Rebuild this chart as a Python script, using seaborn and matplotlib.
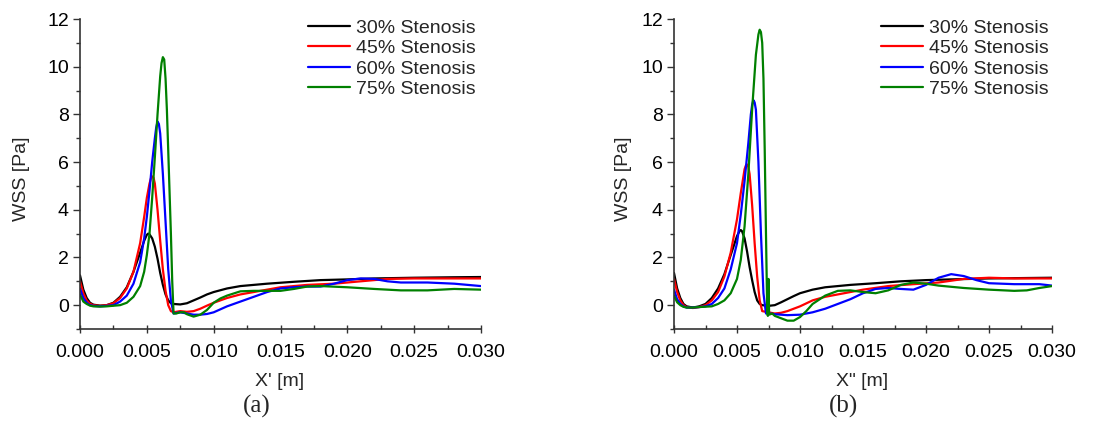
import numpy as np
import pandas as pd
import matplotlib
matplotlib.use("Agg")
import matplotlib.pyplot as plt
from matplotlib.ticker import MultipleLocator, FormatStrFormatter
import seaborn as sns

# ---------------- data ----------------
series_labels = ["30% Stenosis", "45% Stenosis", "60% Stenosis", "75% Stenosis"]
series_colors = ["#000000", "#ff0000", "#0000ff", "#008000"]

# Panel (a)
a30_x = [0, 0.00025, 0.0005, 0.00075, 0.001, 0.0015, 0.002, 0.0025, 0.003, 0.0035, 0.004, 0.0045,
         0.0048, 0.005, 0.0051, 0.0052, 0.0054, 0.0056, 0.0058, 0.006, 0.0062, 0.0064, 0.0066,
         0.0068, 0.007, 0.0075, 0.008, 0.0085, 0.009, 0.0095, 0.010, 0.011, 0.012,
         0.014, 0.016, 0.018, 0.020, 0.022, 0.025, 0.028, 0.030]
a30_y = [1.25, 0.65, 0.3, 0.1, 0.02, -0.02, 0.0, 0.1, 0.35, 0.75, 1.4, 2.2,
         2.7, 2.95, 3.0, 2.97, 2.8, 2.45, 1.95, 1.35, 0.85, 0.45, 0.2,
         0.08, 0.05, 0.03, 0.08, 0.2, 0.32, 0.45, 0.55, 0.7, 0.8,
         0.9, 0.98, 1.05, 1.08, 1.12, 1.15, 1.17, 1.18]

a45_x = [0, 0.00025, 0.0005, 0.00075, 0.001, 0.0015, 0.002, 0.0025, 0.003, 0.0035, 0.004, 0.0045,
         0.0048, 0.005, 0.0052, 0.0053, 0.0054, 0.0055, 0.0056, 0.0058, 0.006, 0.0062, 0.0064,
         0.0066, 0.0068, 0.007, 0.0075, 0.008, 0.0085, 0.009, 0.0095, 0.010, 0.011, 0.012,
         0.013, 0.015, 0.017, 0.019, 0.021, 0.023, 0.025, 0.028, 0.030]
a45_y = [1.0, 0.5, 0.2, 0.06, 0.0, -0.03, 0.0, 0.08, 0.3, 0.7, 1.4, 2.6,
         3.7, 4.5, 5.1, 5.3, 5.4, 5.35, 5.1, 4.0, 2.7, 1.5, 0.6,
         0.0, -0.25, -0.3, -0.25, -0.28, -0.25, -0.15, -0.02, 0.1, 0.3, 0.45,
         0.55, 0.75, 0.85, 0.9, 1.0, 1.1, 1.12, 1.12, 1.12]

a60_x = [0, 0.00025, 0.0005, 0.00075, 0.001, 0.0015, 0.002, 0.0025, 0.003, 0.0035, 0.004, 0.0045,
         0.0048, 0.005, 0.0052, 0.0054, 0.0056, 0.0057, 0.0058, 0.0059, 0.006, 0.0062, 0.0064,
         0.0066, 0.0068, 0.007, 0.0075, 0.008, 0.0085, 0.009, 0.0095, 0.010, 0.011, 0.012,
         0.013, 0.014, 0.015, 0.016, 0.017, 0.018, 0.019, 0.020, 0.021, 0.022, 0.023, 0.024,
         0.026, 0.028, 0.030]
a60_y = [0.7, 0.3, 0.1, 0.0, -0.03, -0.05, -0.03, 0.0, 0.15, 0.4, 0.9, 1.8,
         2.8, 3.7, 4.8, 6.0, 7.0, 7.45, 7.7, 7.6, 7.2, 5.5, 3.5,
         1.5, 0.2, -0.35, -0.3, -0.35, -0.4, -0.4, -0.37, -0.3, -0.05, 0.15,
         0.35, 0.55, 0.7, 0.75, 0.78, 0.78, 0.9, 1.05, 1.12, 1.1, 1.0, 0.95,
         0.95, 0.9, 0.8]

a75_x = [0, 0.00025, 0.0005, 0.00075, 0.001, 0.0015, 0.002, 0.003, 0.0035, 0.004, 0.0045, 0.0048,
         0.005, 0.0052, 0.0054, 0.0056, 0.0058, 0.006, 0.0061, 0.0062, 0.0063, 0.0064, 0.0065,
         0.0066, 0.0068, 0.0069, 0.007, 0.0072, 0.0075, 0.0078, 0.008, 0.0085, 0.009, 0.0095,
         0.010, 0.0105, 0.011, 0.012, 0.013, 0.014, 0.015, 0.016, 0.017, 0.018, 0.020, 0.022,
         0.024, 0.026, 0.028, 0.030]
a75_y = [0.45, 0.15, 0.05, -0.02, -0.05, -0.06, -0.05, 0.0, 0.1, 0.35, 0.8, 1.4,
         2.1, 3.0, 4.5, 6.2, 8.0, 9.6, 10.15, 10.4, 10.3, 9.5, 8.2,
         6.5, 3.0, 1.0, -0.35, -0.35, -0.3, -0.3, -0.38, -0.48, -0.4, -0.2,
         0.1, 0.28, 0.4, 0.58, 0.6, 0.6, 0.6, 0.68, 0.78, 0.8, 0.75, 0.68,
         0.62, 0.62, 0.68, 0.65]

# Panel (b)
b30_x = [0, 0.00025, 0.0005, 0.00075, 0.001, 0.0015, 0.002, 0.0025, 0.003, 0.0035, 0.004, 0.0045,
         0.005, 0.0052, 0.0053, 0.0054, 0.0056, 0.0058, 0.006, 0.0062, 0.0064, 0.0066, 0.0068,
         0.007, 0.0075, 0.008, 0.0085, 0.009, 0.0095, 0.010, 0.011, 0.012,
         0.014, 0.016, 0.018, 0.020, 0.022, 0.025, 0.030]
b30_y = [1.35, 0.7, 0.3, 0.05, -0.05, -0.1, -0.05, 0.05, 0.3, 0.7, 1.3, 2.1,
         2.9, 3.1, 3.15, 3.1, 2.8, 2.25, 1.6, 1.05, 0.55, 0.2, 0.05,
         0.0, -0.03, 0.0, 0.12, 0.25, 0.38, 0.5, 0.65, 0.75,
         0.85, 0.92, 1.0, 1.05, 1.08, 1.12, 1.15]

b45_x = [0, 0.00025, 0.0005, 0.00075, 0.001, 0.0015, 0.002, 0.0025, 0.003, 0.0035, 0.004, 0.0045,
         0.005, 0.0053, 0.0056, 0.0057, 0.0058, 0.0059, 0.006, 0.0062, 0.0064, 0.0066, 0.0068,
         0.007, 0.0075, 0.008, 0.0085, 0.009, 0.0095, 0.010, 0.011, 0.012, 0.013, 0.015,
         0.017, 0.019, 0.021, 0.023, 0.025, 0.027, 0.030]
b45_y = [1.1, 0.55, 0.2, 0.0, -0.08, -0.12, -0.08, 0.0, 0.2, 0.55, 1.2, 2.2,
         3.6, 4.7, 5.7, 5.85, 5.9, 5.8, 5.5, 4.2, 2.6, 1.2, 0.2,
         -0.25, -0.3, -0.35, -0.32, -0.25, -0.15, -0.05, 0.2, 0.35, 0.45, 0.65,
         0.8, 0.88, 0.95, 1.1, 1.15, 1.12, 1.12]

b60_x = [0, 0.00025, 0.0005, 0.00075, 0.001, 0.0015, 0.002, 0.0025, 0.003, 0.0035, 0.004, 0.0045,
         0.005, 0.0053, 0.0056, 0.0059, 0.0061, 0.0062, 0.0063, 0.0064, 0.0065, 0.0067, 0.0069,
         0.0071, 0.0073, 0.0076, 0.008, 0.009, 0.010, 0.011, 0.012, 0.013, 0.014, 0.015,
         0.016, 0.017, 0.018, 0.019, 0.020, 0.021, 0.022, 0.023, 0.024, 0.025, 0.027, 0.029,
         0.030]
b60_y = [0.65, 0.25, 0.05, -0.05, -0.1, -0.1, -0.08, -0.05, 0.05, 0.3, 0.7, 1.5,
         2.6, 3.8, 5.2, 6.8, 8.0, 8.4, 8.6, 8.5, 8.2, 6.0, 3.0,
         0.5, -0.35, -0.35, -0.38, -0.42, -0.4, -0.3, -0.15, 0.05, 0.25, 0.5,
         0.68, 0.72, 0.68, 0.65, 0.85, 1.15, 1.3, 1.22, 1.05, 0.92, 0.88, 0.88,
         0.82]

b75_x = [0, 0.00025, 0.0005, 0.00075, 0.001, 0.0015, 0.002, 0.003, 0.0035, 0.004, 0.0045, 0.005,
         0.0053, 0.0056, 0.0059, 0.0062, 0.0065, 0.0067, 0.0068, 0.0069, 0.007, 0.0071, 0.0072,
         0.0073, 0.0074, 0.00745, 0.0075, 0.00755, 0.0078, 0.008, 0.0085, 0.009, 0.0095, 0.010,
         0.0105, 0.011, 0.012, 0.013, 0.014, 0.015, 0.016, 0.017, 0.018, 0.019, 0.020, 0.021,
         0.023, 0.025, 0.027, 0.028, 0.029, 0.030]
b75_y = [0.4, 0.12, 0.0, -0.07, -0.1, -0.1, -0.08, -0.05, 0.05, 0.2, 0.5, 1.1,
         1.9, 3.3, 5.5, 8.2, 10.5, 11.35, 11.55, 11.45, 11.0, 9.5, 6.5,
         3.0, -0.3, -0.45, 1.1, -0.4, -0.35, -0.45, -0.55, -0.65, -0.65, -0.5,
         -0.25, 0.05, 0.4, 0.6, 0.62, 0.55, 0.5, 0.62, 0.85, 0.95, 0.9, 0.82,
         0.72, 0.65, 0.6, 0.62, 0.72, 0.8]

x_ticks = [0.000, 0.005, 0.010, 0.015, 0.020, 0.025, 0.030]
y_ticks = [0, 2, 4, 6, 8, 10, 12]
panel_xlabels = ["X' [m]", 'X" [m]']
panel_captions = ["(a)", "(b)"]
y_label = "WSS [Pa]"


def long_frame(xs, ys):
    rows = []
    for lab, x, y in zip(series_labels, xs, ys):
        rows.append(pd.DataFrame({"x": x, "y": y, "series": lab}))
    return pd.concat(rows, ignore_index=True)


df_a = long_frame([a30_x, a45_x, a60_x, a75_x], [a30_y, a45_y, a60_y, a75_y])
df_b = long_frame([b30_x, b45_x, b60_x, b75_x], [b30_y, b45_y, b60_y, b75_y])

# ---------------- styling ----------------
sns.set_style("ticks")
plt.rcParams["font.family"] = ["Liberation Sans", "DejaVu Sans"]
plt.rcParams["font.size"] = 14

W, H = 1120, 421
fig = plt.figure(figsize=(W / 100, H / 100), dpi=100)

axes_px = [(80, 481), (674, 1052)]
top_px, bot_px = 19, 329
legend_anchor_x = [0.9875, 0.992]
xlabel_cx = [280, 862]
ylabel_cx = [22, 623]
caption_cx = [257, 843]

for i, (df, (l, r)) in enumerate(zip([df_a, df_b], axes_px)):
    ax = fig.add_axes([l / W, 1 - bot_px / H, (r - l) / W, (bot_px - top_px) / H])
    sns.lineplot(data=df, x="x", y="y", hue="series", hue_order=series_labels,
                 palette=series_colors, estimator=None, sort=False,
                 linewidth=1.6, ax=ax)
    ax.set_xlim(0, 0.030)
    ax.set_ylim(-1, 12)
    ax.set_xticks(x_ticks)
    ax.set_yticks(y_ticks)
    ax.xaxis.set_major_formatter(FormatStrFormatter("%.3f"))
    ax.xaxis.set_minor_locator(MultipleLocator(0.0025))
    ax.yaxis.set_minor_locator(MultipleLocator(1))
    for s in ["top", "right"]:
        ax.spines[s].set_visible(False)
    for s in ["left", "bottom"]:
        ax.spines[s].set_color("#333333")
        ax.spines[s].set_linewidth(1.2)
    ax.tick_params(axis="both", which="both", colors="#333333", labelcolor="black",
                   labelsize=14, width=1.0)
    ax.tick_params(axis="y", which="major", direction="out", length=5, pad=3)
    ax.tick_params(axis="y", which="minor", direction="out", length=3)
    ax.tick_params(axis="x", which="major", direction="inout", length=6, pad=8)
    ax.tick_params(axis="x", which="minor", direction="in", length=3)

    ax.set_xlabel(panel_xlabels[i], fontsize=14)
    ax.set_ylabel(y_label, fontsize=14)
    ax_w = r - l
    ax_h = bot_px - top_px
    ax.xaxis.set_label_coords((xlabel_cx[i] - l) / ax_w, (bot_px - 381) / ax_h)
    ax.xaxis.label.set_va("center")
    ax.yaxis.set_label_coords((ylabel_cx[i] - l) / ax_w, (bot_px - 179) / ax_h)
    ax.yaxis.label.set_va("center")

    leg = ax.legend(loc="upper right", bbox_to_anchor=(legend_anchor_x[i], 1.0),
                    frameon=False, fontsize=14, handlelength=2.2, handletextpad=0.3,
                    labelspacing=0.15, borderpad=0, borderaxespad=0)
    for h in leg.get_lines():
        h.set_linewidth(1.6)

    fig.text(caption_cx[i] / W, 1 - 406 / H, panel_captions[i], ha="center", va="center",
             fontsize=18, family=["Liberation Serif", "DejaVu Serif"])

fig.savefig("out.png", dpi=100)
